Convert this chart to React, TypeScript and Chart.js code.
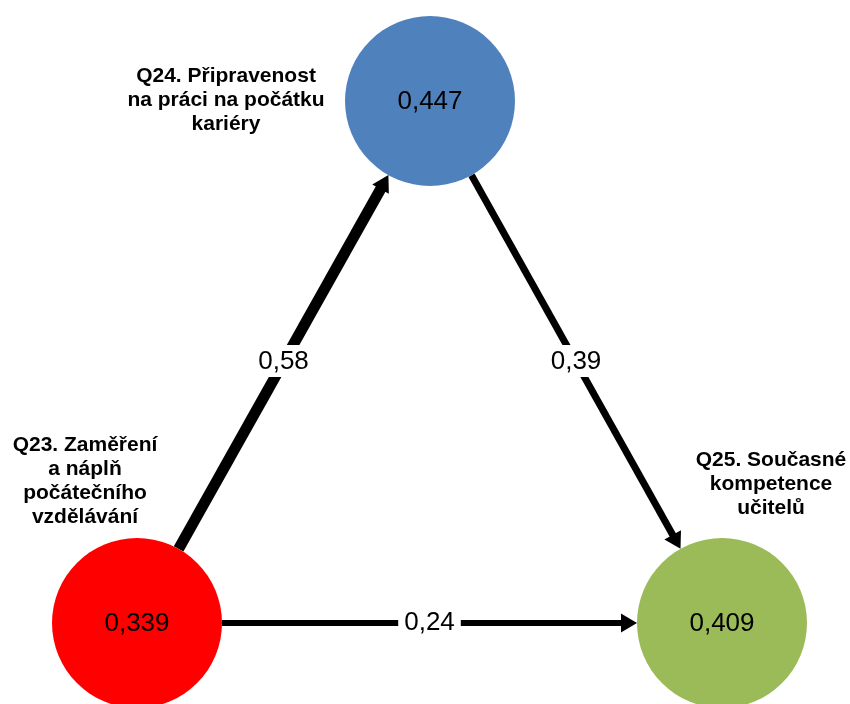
import React, { useEffect, useRef } from "react";
import { Chart, registerables } from "chart.js";
Chart.register(...registerables);

// ---- data ----
const nodeValues = [0.339, 0.447, 0.409];
const nodeLabels = [
  ["Q23. Zaměření", "a náplň", "počátečního", "vzdělávání"],
  ["Q24. Připravenost", "na práci na počátku", "kariéry"],
  ["Q25. Současné", "kompetence", "učitelů"],
];
const edgeFrom = [0, 1, 0];
const edgeTo = [1, 2, 2];
const edgeCoefs = [0.58, 0.39, 0.24];

// ---- layout / style ----
const W = 850;
const H = 704;
const NODE_X = [137, 430, 722];
const NODE_Y = [623, 101, 623];
const NODE_R = 85;
const NODE_COLORS = ["#FF0000", "#4F81BD", "#9BBB59"];
const LABEL_X = [85, 226, 771];
const LABEL_Y = [445, 76, 460];
const LABEL_LINE_H = 24;
const EDGE_WIDTHS = [11, 7, 6];
const HEAD_LEN = 16;
const HEAD_HALF = 9.5;
const FONT = "'Liberation Sans', Arial, sans-serif";

const fmt = (v: number, d: number) => v.toFixed(d).replace(".", ",");

function edgeGeom(i: number) {
  const a = edgeFrom[i];
  const b = edgeTo[i];
  const dx = NODE_X[b] - NODE_X[a];
  const dy = NODE_Y[b] - NODE_Y[a];
  const len = Math.hypot(dx, dy);
  const ux = dx / len;
  const uy = dy / len;
  return {
    sx: NODE_X[a] + NODE_R * ux,
    sy: NODE_Y[a] + NODE_R * uy,
    tx: NODE_X[b] - NODE_R * ux,
    ty: NODE_Y[b] - NODE_R * uy,
    ux,
    uy,
  };
}

const diagramPlugin = {
  id: "diagram",
  afterDatasetsDraw(chart: any) {
    const ctx = chart.ctx as CanvasRenderingContext2D;
    const xs = chart.scales.x;
    const ys = chart.scales.y;
    ctx.save();
    // arrowheads
    edgeCoefs.forEach((_, i) => {
      const g = edgeGeom(i);
      const tx = xs.getPixelForValue(g.tx);
      const ty = ys.getPixelForValue(g.ty);
      const bx = tx - HEAD_LEN * g.ux;
      const by = ty - HEAD_LEN * g.uy;
      const px = -g.uy;
      const py = g.ux;
      ctx.beginPath();
      ctx.moveTo(tx, ty);
      ctx.lineTo(bx + HEAD_HALF * px, by + HEAD_HALF * py);
      ctx.lineTo(bx - HEAD_HALF * px, by - HEAD_HALF * py);
      ctx.closePath();
      ctx.fillStyle = "#000";
      ctx.fill();
    });
    // edge labels
    ctx.font = `26px ${FONT}`;
    ctx.textAlign = "center";
    ctx.textBaseline = "middle";
    edgeCoefs.forEach((c, i) => {
      const g = edgeGeom(i);
      const mx = xs.getPixelForValue((g.sx + g.tx) / 2);
      const my = ys.getPixelForValue((g.sy + g.ty) / 2) - 1;
      const t = fmt(c, 2);
      const w = ctx.measureText(t).width;
      ctx.fillStyle = "#fff";
      ctx.fillRect(mx - w / 2 - 6, my - 16, w + 12, 32);
      ctx.fillStyle = "#000";
      ctx.fillText(t, mx, my + 1);
    });
    // node values
    nodeValues.forEach((v, i) => {
      ctx.fillStyle = "#000";
      ctx.fillText(fmt(v, 3), xs.getPixelForValue(NODE_X[i]), ys.getPixelForValue(NODE_Y[i]) + 1);
    });
    // node labels
    ctx.font = `bold 21px ${FONT}`;
    nodeLabels.forEach((lines, i) => {
      lines.forEach((ln, j) => {
        ctx.fillStyle = "#000";
        ctx.fillText(ln, xs.getPixelForValue(LABEL_X[i]), ys.getPixelForValue(LABEL_Y[i] + j * LABEL_LINE_H));
      });
    });
    ctx.restore();
  },
};

export default function App() {
  const ref = useRef<HTMLCanvasElement | null>(null);
  useEffect(() => {
    if (!ref.current) return;
    const edgeDatasets = edgeCoefs.map((_, i) => {
      const g = edgeGeom(i);
      return {
        type: "line" as const,
        label: fmt(edgeCoefs[i], 2),
        data: [
          { x: g.sx, y: g.sy },
          { x: g.tx - (HEAD_LEN - 1) * g.ux, y: g.ty - (HEAD_LEN - 1) * g.uy },
        ],
        showLine: true,
        borderColor: "#000",
        borderWidth: EDGE_WIDTHS[i],
        borderCapStyle: "butt" as const,
        pointRadius: 0,
        pointHoverRadius: 0,
        clip: false as any,
      };
    });
    const chart = new Chart(ref.current, {
      type: "scatter",
      data: {
        datasets: [
          {
            label: "nodes",
            data: nodeValues.map((_, i) => ({ x: NODE_X[i], y: NODE_Y[i] })),
            pointRadius: NODE_R,
            pointHoverRadius: NODE_R,
            pointBackgroundColor: NODE_COLORS,
            pointBorderWidth: 0,
            pointBorderColor: NODE_COLORS,
            clip: false as any,
          } as any,
          ...edgeDatasets,
        ],
      },
      options: {
        responsive: false,
        animation: false,
        events: [],
        layout: { padding: 0, autoPadding: false },
        scales: {
          x: { type: "linear", min: 0, max: W, display: false },
          y: { type: "linear", min: 0, max: H, reverse: true, display: false },
        },
        plugins: { legend: { display: false }, tooltip: { enabled: false } },
      },
      plugins: [diagramPlugin],
    });
    return () => chart.destroy();
  }, []);
  return (
    <div style={{ position: "absolute", left: 0, top: 0, width: W, height: H, background: "#fff" }}>
      <canvas ref={ref} width={W} height={H} />
    </div>
  );
}
